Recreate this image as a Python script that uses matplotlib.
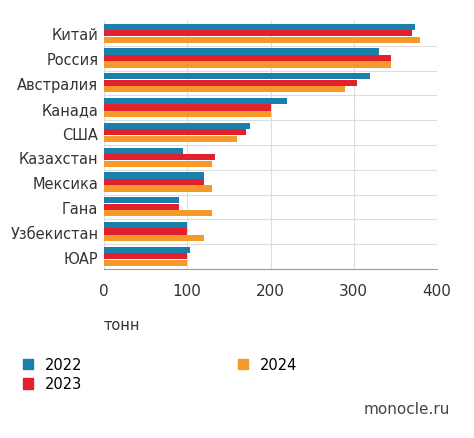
import matplotlib.pyplot as plt
import numpy as np

countries = ["Китай", "Россия", "Австралия", "Канада", "США", "Казахстан",
             "Мексика", "Гана", "Узбекистан", "ЮАР"]
v2022 = [374, 330, 320, 220, 175, 95, 120, 90, 100, 103]
v2023 = [370, 345, 304, 200, 170, 133, 120, 90, 100, 100]
v2024 = [380, 345, 290, 200, 160, 130, 130, 130, 120, 100]
years = ["2022", "2023", "2024"]
colors = ["#1a7fab", "#e3202d", "#f39a2a"]

fig = plt.figure(figsize=(4.74, 4.39), dpi=100)
ax = fig.add_axes([104 / 474, 1 - 270 / 439, 333 / 474, 248 / 439])

y = np.arange(len(countries))
h = 0.25
bars = []
for k, vals in enumerate([v2022, v2023, v2024]):
    bars.append(ax.barh(y - 0.27 + k * 0.26, vals, height=h, color=colors[k], zorder=3))

ax.set_ylim(len(countries) - 0.5, -0.5)
ax.set_xlim(0, 400)
ax.set_yticks(y)
ax.set_yticklabels(countries, fontsize=10.5, color="#333333")
ax.set_xticks([0, 100, 200, 300, 400])
ax.tick_params(axis="x", labelsize=11, colors="#333333", length=0, pad=10)
ax.tick_params(axis="y", length=0, pad=4)
ax.grid(axis="x", color="#dddddd", lw=0.8, zorder=0)
for b in np.arange(0.5, len(countries) - 0.5, 1):
    ax.axhline(b, color="#dddddd", lw=0.8, zorder=0)
for s in ["top", "right", "left"]:
    ax.spines[s].set_visible(False)
ax.spines["bottom"].set_color("#999999")

fig.text(104 / 474, 1 - 325 / 439, "тонн", fontsize=10.5, color="#333333", va="center")

handles = [plt.Rectangle((0, 0), 1, 1, color=c) for c in colors]
fig.legend([handles[0], handles[1]], years[:2], loc="upper left",
           bbox_to_anchor=(10 / 474, 1 - 345 / 439), frameon=False,
           fontsize=10.5, handlelength=0.7, handleheight=0.7, labelspacing=0.3)
fig.legend([handles[2]], years[2:], loc="upper left",
           bbox_to_anchor=(225 / 474, 1 - 345 / 439), frameon=False,
           fontsize=10.5, handlelength=0.7, handleheight=0.7)
fig.text(450 / 474, 1 - 410 / 439, "monocle.ru", fontsize=11, color="#444444",
         ha="right", va="center")

fig.savefig("out.png", dpi=100)
